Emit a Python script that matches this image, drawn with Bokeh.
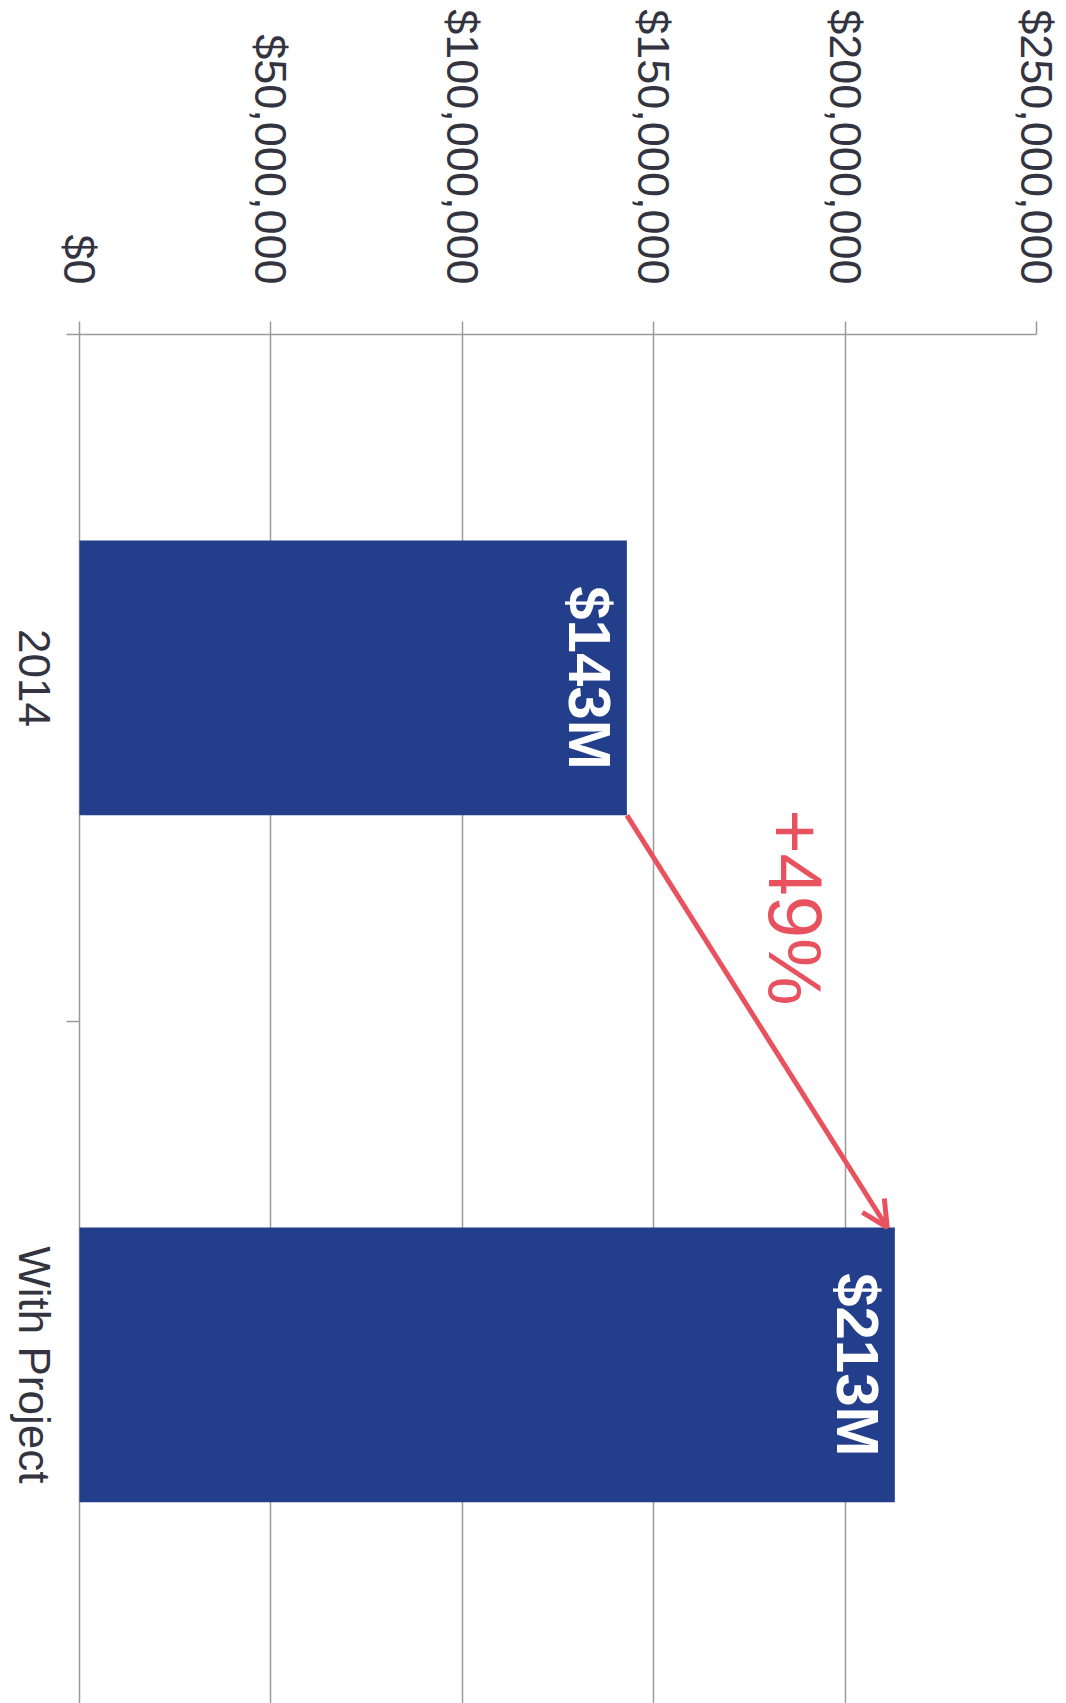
import math
from bokeh.plotting import figure
from bokeh.models import Range1d, FixedTicker, NumeralTickFormatter, Arrow, OpenHead
from bokeh.embed import file_html
from bokeh.resources import INLINE
from bokeh.core.properties import value

categories = ["2014", "With Project"]
values = [143_000_000, 213_000_000]
bar_labels = ["$143M", "$213M"]
change_label = "+49%"
value_ticks = [0, 50_000_000, 100_000_000, 150_000_000, 200_000_000, 250_000_000]

FONT = "Liberation Sans"
BAR = "#233f8b"
GRID = "#9a9a9a"
TXT = "#33343f"
RED = "#e8525f"

X_MAX = 250_000_000
LEFT_PX = 79            # room for the category labels, inside the frame
PLOT_W = 957            # pixels from $0 to $250M
FRAME_H = 1369
Y_END = 1.993
dollars_per_px = X_MAX / PLOT_W
X_MIN = -LEFT_PX * dollars_per_px
TICK_X = -13 * dollars_per_px       # outward tick length on the $0 line
LABEL_X = -45 * dollars_per_px      # centre of the category labels

pos = [i + 0.5 for i in range(len(categories))]
bounds = [float(i) for i in range(len(categories) + 1)]

p = figure(frame_width=LEFT_PX + PLOT_W, frame_height=FRAME_H,
           x_range=Range1d(X_MIN, X_MAX), y_range=Range1d(Y_END, 0),
           x_axis_location="above", output_backend="svg", toolbar_location=None,
           min_border_left=0, min_border_right=28, min_border_top=334, min_border_bottom=0)
p.outline_line_color = None
p.background_fill_color = "white"
p.border_fill_color = "white"
p.yaxis.visible = False
p.ygrid.visible = False

# value axis (top)
xt = FixedTicker(ticks=value_ticks)
ax = p.xaxis[0]
ax.ticker = xt
ax.bounds = (TICK_X, X_MAX)
ax.formatter = NumeralTickFormatter(format="$0,0")
ax.major_label_orientation = -math.pi / 2
ax.major_label_text_font = FONT
ax.major_label_text_font_size = "45px"
ax.major_label_text_color = TXT
ax.major_label_standoff = 37
ax.major_tick_out = 13
ax.major_tick_in = 0
ax.major_tick_line_color = GRID
ax.major_tick_line_width = 1.5
ax.minor_tick_line_color = None
ax.axis_line_color = GRID
ax.axis_line_width = 1.5

p.xgrid.ticker = xt
p.xgrid.grid_line_color = GRID
p.xgrid.grid_line_width = 1.5

# category boundary ticks on the $0 line
p.segment(x0=TICK_X, x1=0, y0=bounds[1:], y1=bounds[1:], line_color=GRID, line_width=1.5)

# category labels
p.text(x=LABEL_X, y=pos, text=categories, angle=-math.pi / 2,
       text_align="center", text_baseline="middle", text_color=TXT,
       text_font=value(FONT), text_font_size="44px")

p.hbar(y=pos, left=0, right=values, height=0.4, fill_color=BAR, line_color=None)

# bar value labels
p.text(x=[v - 1_000_000 for v in values], y=pos, text=bar_labels, angle=-math.pi / 2,
       text_align="center", text_baseline="top", text_color="white",
       text_font=value(FONT), text_font_style="bold", text_font_size="60px")

# change arrow
x0, y0 = values[0], pos[0] + 0.2
x1, y1 = values[1] - 2_000_000, pos[1] - 0.2
p.add_layout(Arrow(x_start=x0, y_start=y0, x_end=x1, y_end=y1,
                   line_color=RED, line_width=5,
                   end=OpenHead(size=26, line_color=RED, line_width=5)))

p.text(x=[(x0 + x1) / 2 + 10_000_000], y=[(y0 + y1) / 2 - 0.166], text=[change_label],
       angle=-math.pi / 2, text_align="center", text_baseline="middle",
       text_color=RED, text_font=value(FONT), text_font_size="76px")

open("out.html", "w").write(file_html(p, INLINE))
